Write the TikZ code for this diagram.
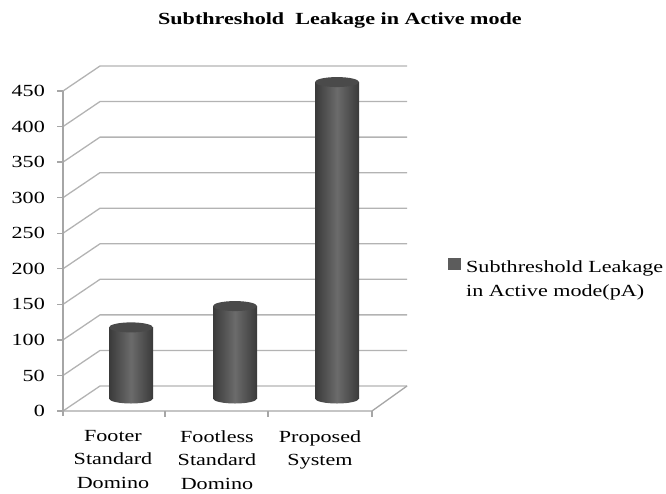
\documentclass[tikz,border=0pt]{standalone}
\usepackage{fontspec}
\setmainfont[FakeStretch=1.3]{Liberation Serif}
\definecolor{chartGrid}{HTML}{B3B3B3}
\definecolor{chartAxis}{HTML}{A6A6A6}
\definecolor{barEdge}{HTML}{3A3A3A}
\definecolor{barMid}{HTML}{6B6B6B}
\definecolor{barTop}{HTML}{4A4A4A}
\definecolor{legendKey}{HTML}{5C5C5C}
\tikzset{
  gridline/.style={chartGrid, line width=1.3pt},
  axisline/.style={chartAxis, line width=1.3pt},
  barshade/.style={left color=barEdge, right color=barEdge, middle color=barMid},
  ticklabel/.style={font=\fontsize{17}{20}\selectfont, anchor=east, inner sep=0pt},
  catlabel/.style={font=\fontsize{17}{23.5}\selectfont, align=center, anchor=north, inner sep=0pt}
}

\begin{document}
\begin{tikzpicture}[x=1pt, y=-1pt]
            \useasboundingbox (0,0) rectangle (666,493);
            \node[font=\bfseries\fontsize{17}{20}\selectfont, anchor=base, inner sep=0pt] (title) at (340,24) {Subthreshold\ \ Leakage in Active mode};
            % side wall and back wall
            \foreach \v in {0,50,...,450}{
                \pgfmathsetmacro\yf{411-\v*0.7111}
                \draw[gridline] (63,\yf) -- ++(37,-25) -- (407,{\yf-25});
                \draw[axisline] (57,\yf) -- (63,\yf);
                \node[ticklabel] (tick\v) at (45,\yf) {\v};
            }
            % floor and axis
            \draw[axisline] (63,91) -- (63,416);
            \draw[axisline] (63,411) -- (372,411) -- (407,386);
            \foreach \x in {165,268,372}
                \draw[axisline] (\x,411) -- (\x,417);
            % cylinders
            \foreach \cx/\v/\n in {131/100/footer, 235/130/footless, 337/445/proposed}{
                \pgfmathsetmacro\yt{398.5-\v*0.7111}
                \shade[barshade] (\cx,398.5) ellipse[x radius=22pt, y radius=5pt];
                \shade[barshade] ({\cx-22},\yt) rectangle ({\cx+22},398.5);
                \fill[barTop] (\cx,\yt) ellipse[x radius=22pt, y radius=5pt];
                \coordinate (\n) at (\cx,\yt);
            }
            \node[catlabel] (catFooter) at (113,430) {Footer\\Standard\\Domino};
            \node[catlabel] (catFootless) at (217,430) {Footless\\Standard\\Domino};
            \node[catlabel] (catProposed) at (320,430) {Proposed\\System};
            % legend
            \fill[legendKey] (448,258) rectangle (461,270);
            \node[font=\fontsize{17}{23.5}\selectfont, align=left, anchor=north west, inner sep=0pt] (legend) at (466,260.5) {Subthreshold Leakage\\in Active mode(pA)};
        \end{tikzpicture}
\end{document}
